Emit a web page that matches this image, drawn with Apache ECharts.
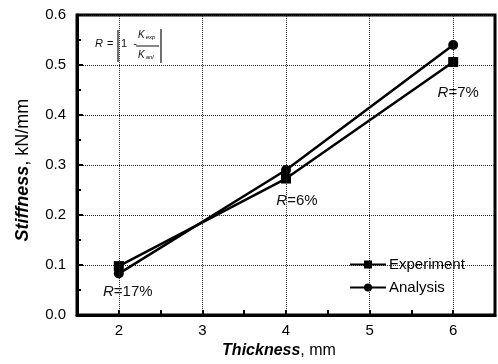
<!DOCTYPE html>
<html>
<head>
<meta charset="utf-8">
<script src="https://cdn.jsdelivr.net/npm/echarts@6/dist/echarts.min.js"></script>
<style>
  html, body { margin: 0; padding: 0; background: #fff; }
  #chart { width: 498px; height: 364px; }
</style>
</head>
<body>
<div id="chart"></div>
<script>
// data
var thickness = [2, 4, 6];
var experiment = [0.098, 0.273, 0.506];
var analysis = [0.083, 0.29, 0.54];
var errLabels = ['17%', '6%', '7%'];
var gridX = [2, 3, 4, 5, 6];

var font = '"Liberation Sans", Arial, sans-serif';
var chart = echarts.init(document.getElementById('chart'));

// label offsets for the R=..% notes, attached to the experiment points
var labelOffsets = [[9, 26], [11, 22], [5, 31]];

var option = {
  animation: false,
  textStyle: { fontFamily: font },
  grid: {
    left: 77, right: 1, top: 15, bottom: 48,
    show: true, borderColor: '#000', borderWidth: 3, backgroundColor: 'transparent'
  },
  legend: {
    orient: 'vertical',
    left: 349, top: 257, padding: 0,
    itemWidth: 36, itemHeight: 10, itemGap: 8,
    textStyle: { fontSize: 15, color: '#000', fontFamily: font, padding: [0, 0, 0, -2] },
    data: ['Experiment', 'Analysis']
  },
  xAxis: {
    type: 'value', min: 1.5, max: 6.5, interval: 0.5,
    name: '{b|Thickness}, mm', nameLocation: 'middle', nameGap: 26,
    nameTextStyle: { fontSize: 16, color: '#000', padding: [0, 14, 0, 0], rich: { b: { fontSize: 16, fontWeight: 'bold', fontStyle: 'italic', color: '#000' } } },
    axisLine: { lineStyle: { color: '#000', width: 3 } },
    axisTick: { inside: true, length: 5, lineStyle: { color: '#000', width: 2 } },
    axisLabel: {
      margin: 8, fontSize: 15, color: '#000',
      formatter: function (v) { return Number.isInteger(v) && v >= 2 && v <= 6 ? String(v) : ''; }
    },
    splitLine: { show: false }
  },
  yAxis: {
    type: 'value', min: 0, max: 0.6, interval: 0.1,
    name: '{b|Stiffness}, kN/mm', nameLocation: 'middle', nameGap: 45,
    nameTextStyle: { fontSize: 18, color: '#000', padding: [0, 10, 0, 0], rich: { b: { fontSize: 18, fontWeight: 'bold', fontStyle: 'italic', color: '#000' } } },
    axisLine: { lineStyle: { color: '#000', width: 3 } },
    axisTick: { inside: true, length: 6, lineStyle: { color: '#000', width: 2 } },
    minorTick: { show: true, splitNumber: 2, length: 4, lineStyle: { color: '#000', width: 2 } },
    axisLabel: {
      margin: 11, fontSize: 15, color: '#000',
      formatter: function (v) { return v.toFixed(1); }
    },
    splitLine: { show: true, lineStyle: { color: '#222', width: 1, type: [1, 1] } }
  },
  series: [
    {
      name: 'Experiment', type: 'line',
      data: thickness.map(function (t, i) {
        return {
          value: [t, experiment[i]],
          label: {
            show: true, position: 'inside', offset: labelOffsets[i],
            formatter: '{i|R}=' + errLabels[i],
            fontSize: 15, color: '#111',
            rich: { i: { fontStyle: 'italic', fontSize: 15, color: '#111' } }
          }
        };
      }),
      symbol: 'rect', symbolSize: 10,
      itemStyle: { color: '#000' },
      lineStyle: { color: '#000', width: 2.5 },
      markLine: {
        silent: true, symbol: 'none', label: { show: false },
        lineStyle: { color: '#222', width: 1, type: [1, 1] },
        data: gridX.map(function (x) { return { xAxis: x }; })
      },
      z: 3
    },
    {
      name: 'Analysis', type: 'line',
      data: thickness.map(function (t, i) { return [t, analysis[i]]; }),
      symbol: 'circle', symbolSize: 10,
      itemStyle: { color: '#000' },
      lineStyle: { color: '#000', width: 2.5 },
      z: 3
    }
  ],
  graphic: [
    { type: 'text', left: 95, top: 38, style: { text: 'R', font: 'italic 11px ' + font, fill: '#111' } },
    { type: 'text', left: 107, top: 38, style: { text: '=', font: '11px ' + font, fill: '#111' } },
    { type: 'line', shape: { x1: 118, y1: 30, x2: 118, y2: 62 }, style: { stroke: '#111', lineWidth: 1.2 } },
    { type: 'text', left: 121, top: 38, style: { text: '1  -', font: '11px ' + font, fill: '#111' } },
    { type: 'text', left: 138, top: 30, style: { text: '{k|K}{s|exp}', fill: '#111', rich: { k: { font: 'italic 10px ' + font }, s: { font: 'italic 6px ' + font, padding: [4, 0, 0, 1] } } } },
    { type: 'line', shape: { x1: 136, y1: 46, x2: 159, y2: 46 }, style: { stroke: '#111', lineWidth: 1 } },
    { type: 'text', left: 138, top: 50, style: { text: '{k|K}{s|anl}', fill: '#111', rich: { k: { font: 'italic 10px ' + font }, s: { font: 'italic 6px ' + font, padding: [4, 0, 0, 1] } } } },
    { type: 'line', shape: { x1: 161, y1: 29, x2: 161, y2: 63 }, style: { stroke: '#111', lineWidth: 1.2 } }
  ]
};
chart.setOption(option);
</script>
</body>
</html>
